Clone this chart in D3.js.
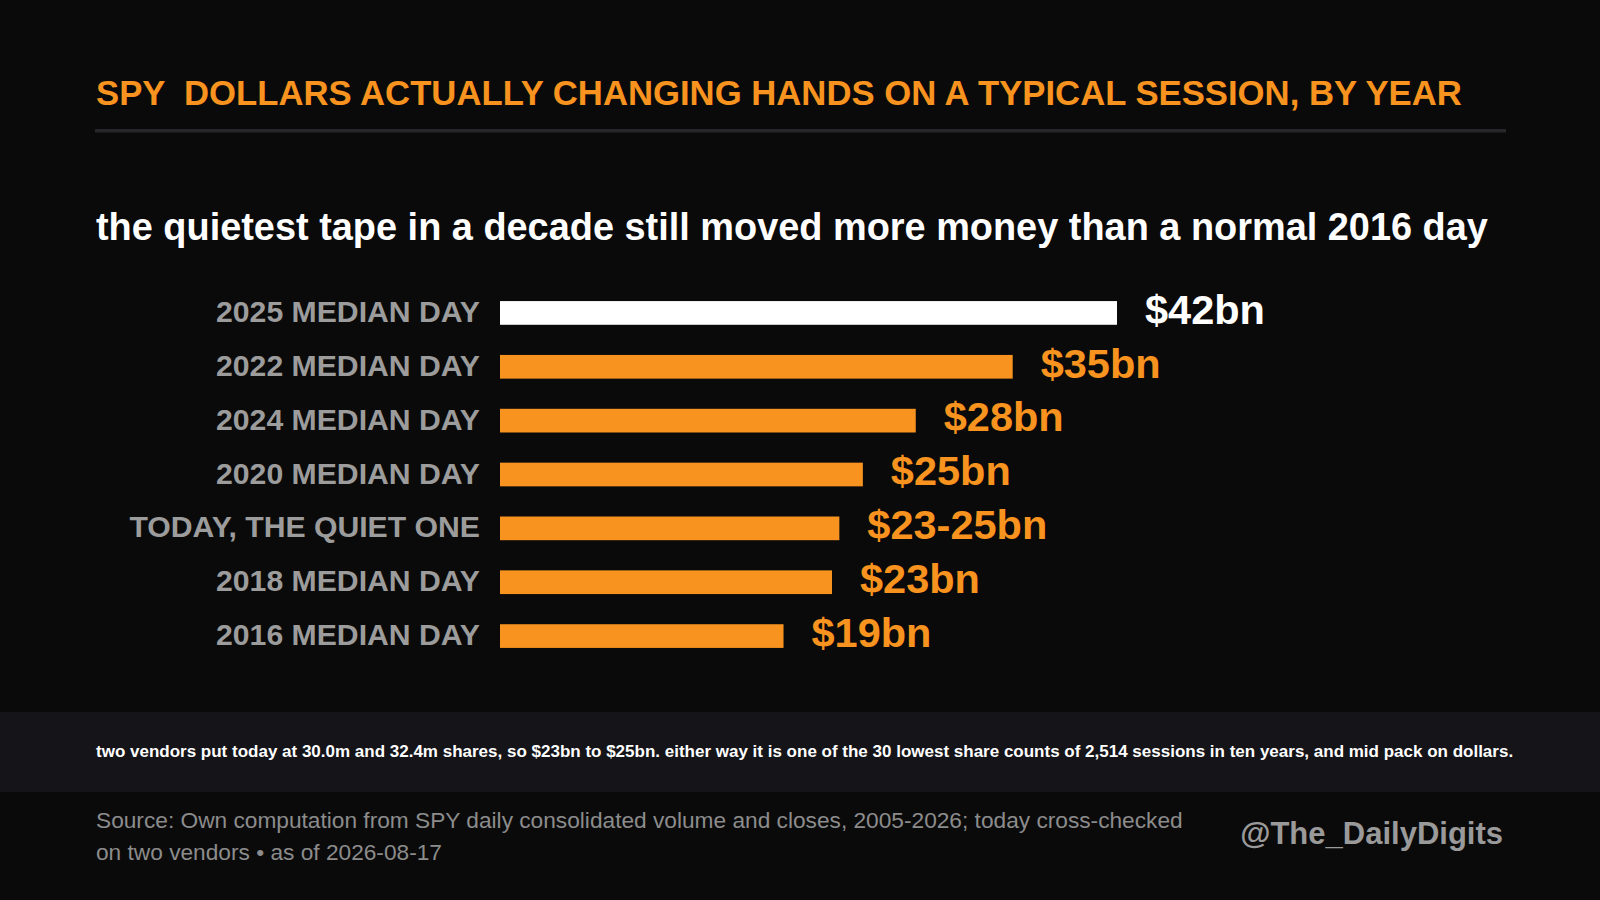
<!DOCTYPE html>
<html>
<head>
<meta charset="utf-8">
<script src="https://cdn.jsdelivr.net/npm/d3@7"></script>
<style>
  html, body { margin: 0; padding: 0; background: #0a0a0a; }
  svg { display: block; font-family: "Liberation Sans", Arial, sans-serif; }
</style>
</head>
<body>
<svg width="1600" height="900"></svg>
<script>
// chart data
var labels = ["2025 MEDIAN DAY", "2022 MEDIAN DAY", "2024 MEDIAN DAY", "2020 MEDIAN DAY",
              "TODAY, THE QUIET ONE", "2018 MEDIAN DAY", "2016 MEDIAN DAY"];
var values = [42, 34.9, 28.3, 24.7, 23.1, 22.6, 19.3];
var valueText = ["$42bn", "$35bn", "$28bn", "$25bn", "$23-25bn", "$23bn", "$19bn"];
var highlight = "2025 MEDIAN DAY";

var orange = "#f7931e";
var svg = d3.select("svg");
var width = +svg.attr("width");

svg.append("rect").attr("width", width).attr("height", 900).attr("fill", "#0a0a0a");

// header
svg.append("text")
    .attr("x", 96).attr("y", 105)
    .attr("fill", orange)
    .attr("font-size", "34.7px")
    .attr("font-weight", "bold")
    .style("white-space", "pre")
    .text("SPY  DOLLARS ACTUALLY CHANGING HANDS ON A TYPICAL SESSION, BY YEAR");

svg.append("rect")
    .attr("x", 95).attr("y", 129)
    .attr("width", 1411).attr("height", 3.5)
    .attr("fill", "#26262b");

svg.append("text")
    .attr("x", 96).attr("y", 240)
    .attr("fill", "#ffffff")
    .attr("font-size", "37.9px")
    .attr("font-weight", "bold")
    .text("the quietest tape in a decade still moved more money than a normal 2016 day");

// scales
var xScale = d3.scaleLinear().domain([0, 42]).range([500, 1117]);
var yScale = d3.scaleBand().domain(labels).range([286, 663]).paddingInner(0.56).paddingOuter(0.28);

var data = labels.map(function (d, i) {
    return { label: d, value: values[i], text: valueText[i] };
});

var g = svg.append("g");

g.selectAll(".bar")
    .data(data)
    .enter().append("rect")
    .attr("class", "bar")
    .attr("x", xScale(0))
    .attr("y", function (d) { return yScale(d.label); })
    .attr("width", function (d) { return xScale(d.value) - xScale(0); })
    .attr("height", yScale.bandwidth())
    .attr("fill", function (d) { return d.label == highlight ? "#ffffff" : orange; });

// category labels
g.selectAll(".lab")
    .data(data)
    .enter().append("text")
    .attr("class", "lab")
    .attr("x", 480)
    .attr("y", function (d) { return yScale(d.label) + yScale.bandwidth() / 2; })
    .attr("dy", "0.3em")
    .attr("text-anchor", "end")
    .attr("fill", "#9c9c9c")
    .attr("font-size", "30.2px")
    .attr("font-weight", "bold")
    .text(function (d) { return d.label; });

// value labels
g.selectAll(".val")
    .data(data)
    .enter().append("text")
    .attr("class", "val")
    .attr("x", function (d) { return xScale(d.value) + 28; })
    .attr("y", function (d) { return yScale(d.label) + yScale.bandwidth() / 2; })
    .attr("dy", "0.26em")
    .attr("fill", function (d) { return d.label == highlight ? "#ffffff" : orange; })
    .attr("font-size", "41.5px")
    .attr("font-weight", "bold")
    .text(function (d) { return d.text; });

// note band
svg.append("rect")
    .attr("x", 0).attr("y", 712)
    .attr("width", width).attr("height", 80)
    .attr("fill", "#141419");

svg.append("text")
    .attr("x", 96).attr("y", 757)
    .attr("fill", "#ffffff")
    .attr("font-size", "17px")
    .attr("font-weight", "bold")
    .text("two vendors put today at 30.0m and 32.4m shares, so $23bn to $25bn. either way it is one of the 30 lowest share counts of 2,514 sessions in ten years, and mid pack on dollars.");

// footer
var src = svg.append("text")
    .attr("fill", "#8c8c8c")
    .attr("font-size", "22.7px");
src.append("tspan").attr("x", 96).attr("y", 828)
    .text("Source: Own computation from SPY daily consolidated volume and closes, 2005-2026; today cross-checked");
src.append("tspan").attr("x", 96).attr("y", 860)
    .text("on two vendors \u2022 as of 2026-08-17");

svg.append("text")
    .attr("x", 1503).attr("y", 844)
    .attr("text-anchor", "end")
    .attr("fill", "#9a9a9a")
    .attr("font-size", "31px")
    .attr("font-weight", "bold")
    .text("@The_DailyDigits");
</script>
</body>
</html>
